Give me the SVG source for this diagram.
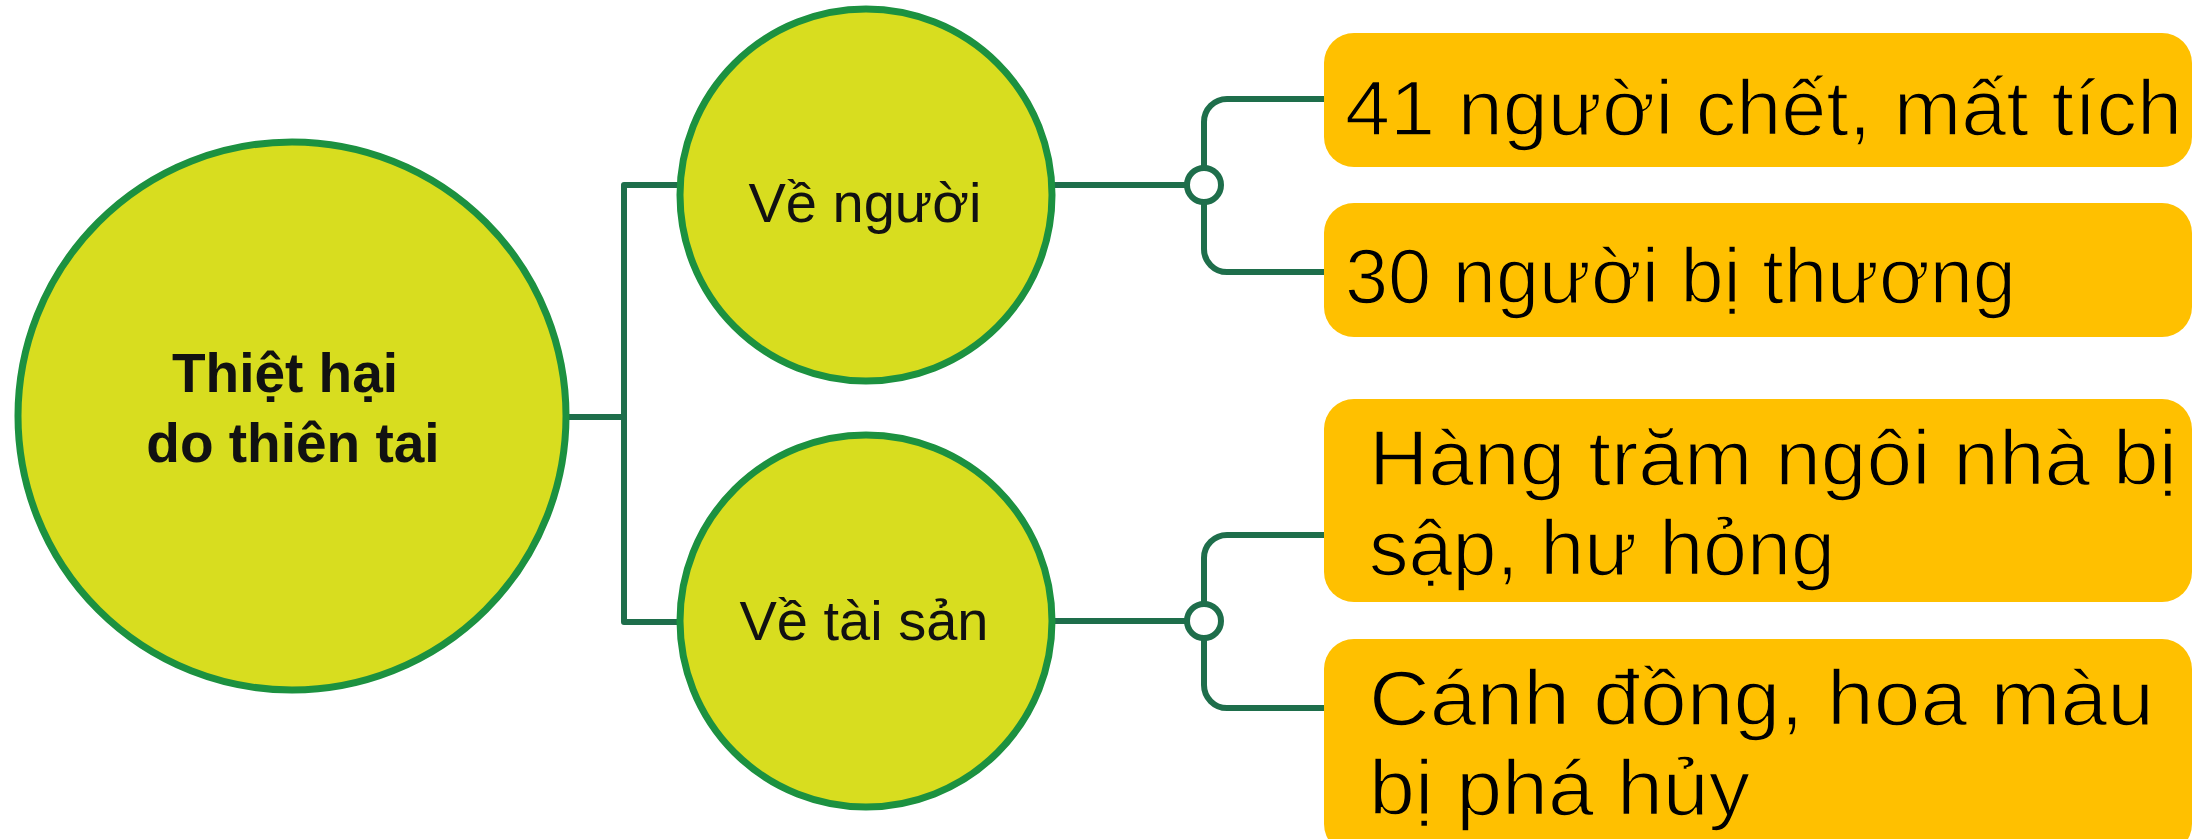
<svg xmlns="http://www.w3.org/2000/svg" width="2193" height="839" viewBox="0 0 2193 839">
<style>
.bg{fill:#ffffff}
.conn{fill:none;stroke:#1e6e4b;stroke-width:6;stroke-linejoin:round}
.hub{fill:#ffffff;stroke:#1e6e4b;stroke-width:6}
.node{fill:#d8dd1f;stroke:#1c9140;stroke-width:7}
.box{fill:#ffc000}
.t-main{font-family:"Liberation Sans",Arial,sans-serif;font-weight:bold;font-size:55px;fill:#111111;text-anchor:middle}
.t-sub{font-family:"Liberation Sans",Arial,sans-serif;font-size:56px;fill:#111111;text-anchor:middle}
.t-box{font-family:"Liberation Sans",Arial,sans-serif;font-size:77px;fill:#000000;stroke:#ffc000;stroke-width:1.6}
</style>
<rect class="bg" x="0" y="0" width="2193" height="839"/>
<g id="connectors">
  <path class="conn" d="M566,417 H624"/>
  <path class="conn" d="M682,185 H624 V622 H682"/>
  <path class="conn" d="M1050,185 H1187"/>
  <path class="conn" d="M1050,621 H1187"/>
  <path class="conn" d="M1204,168 V122 A23,23 0 0 1 1227,99 H1326"/>
  <path class="conn" d="M1204,202 V249 A23,23 0 0 0 1227,272 H1326"/>
  <path class="conn" d="M1204,604 V558 A23,23 0 0 1 1227,535 H1326"/>
  <path class="conn" d="M1204,638 V685 A23,23 0 0 0 1227,708 H1326"/>
  <circle class="hub" cx="1204" cy="185" r="17"/>
  <circle class="hub" cx="1204" cy="621" r="17"/>
</g>
<g id="node-main">
  <circle class="node" cx="292" cy="416" r="274"/>
  <text class="t-main" x="285" y="392">Thiệt hại</text>
  <text class="t-main" x="293" y="462">do thiên tai</text>
</g>
<g id="node-ve-nguoi">
  <circle class="node" cx="866" cy="195" r="186"/>
  <text class="t-sub" x="865" y="222">Về người</text>
</g>
<g id="node-ve-tai-san">
  <circle class="node" cx="866" cy="621" r="186"/>
  <text class="t-sub" x="864" y="640">Về tài sản</text>
</g>
<g id="box-1">
  <rect class="box" x="1324" y="33" width="868" height="134" rx="30"/>
  <text class="t-box" x="1345" y="135" textLength="837" lengthAdjust="spacingAndGlyphs">41 người chết, mất tích</text>
</g>
<g id="box-2">
  <rect class="box" x="1324" y="203" width="868" height="134" rx="30"/>
  <text class="t-box" x="1345" y="303" textLength="671" lengthAdjust="spacingAndGlyphs">30 người bị thương</text>
</g>
<g id="box-3">
  <rect class="box" x="1324" y="399" width="868" height="203" rx="30"/>
  <text class="t-box" x="1369" y="485" textLength="808" lengthAdjust="spacingAndGlyphs">Hàng trăm ngôi nhà bị</text>
  <text class="t-box" x="1369" y="575" textLength="466" lengthAdjust="spacingAndGlyphs">sập, hư hỏng</text>
</g>
<g id="box-4">
  <rect class="box" x="1324" y="639" width="868" height="215" rx="30"/>
  <text class="t-box" x="1369" y="725" textLength="785" lengthAdjust="spacingAndGlyphs">Cánh đồng, hoa màu</text>
  <text class="t-box" x="1369" y="815" textLength="381" lengthAdjust="spacingAndGlyphs">bị phá hủy</text>
</g>
</svg>
